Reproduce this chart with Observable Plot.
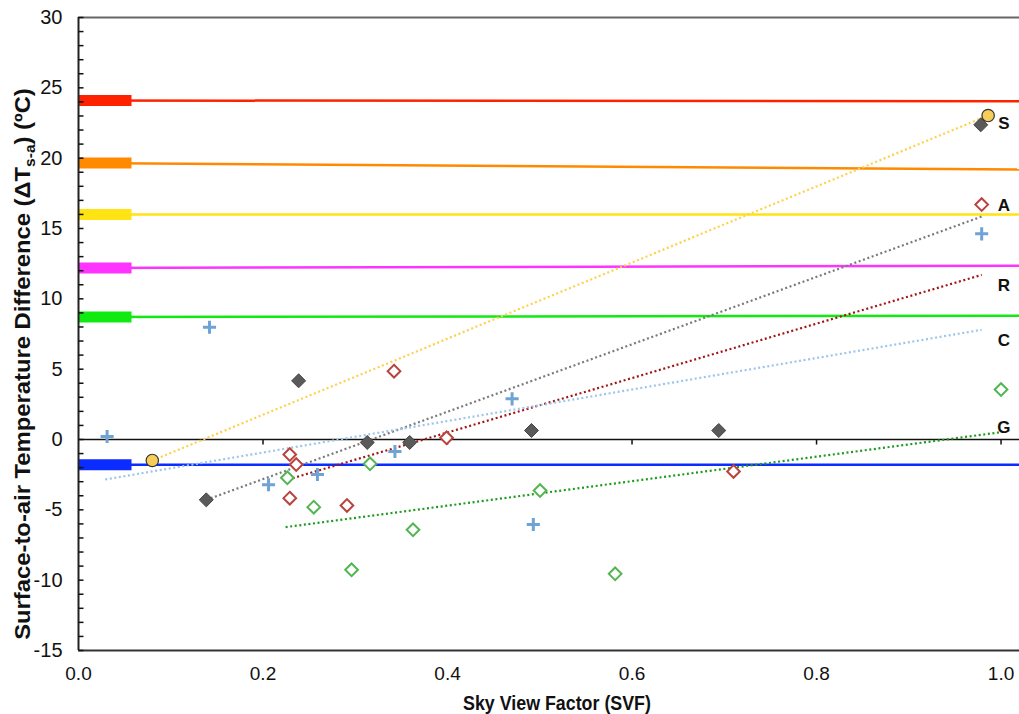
<!DOCTYPE html>
<html><head><meta charset="utf-8">
<script src="https://cdn.jsdelivr.net/npm/d3@7"></script>
<script src="https://cdn.jsdelivr.net/npm/@observablehq/plot@0.6"></script>
<style>body{margin:0;background:#fff} svg{display:block}</style>
</head><body><div id="chart"></div>
<script>
// ---- data ----
const yTickLabels = [-15, -10, -5, 0, 5, 10, 15, 20, 25, 30];
const xTickLabels = [0, 0.2, 0.4, 0.6, 0.8, 1.0];
const yMinorTicks = d3.range(-15, 31, 1);

// horizontal reference levels (start value at SVF 0, end value at right edge)
const refStart = [24.1, 19.65, 16.0, 12.2, 8.7, -1.8];
const refEnd   = [24.05, 19.2, 16.0, 12.35, 8.8, -1.8];
const refBarSVF = 0.058;

// series points
const svfS = [0.080, 0.986];
const dtS  = [-1.49, 23.03];
const svfA = [0.1385, 0.2386, 0.313, 0.359, 0.491, 0.694, 0.978];
const dtA  = [-4.29, 4.17, -0.21, -0.21, 0.64, 0.64, 22.37];
const svfR = [0.229, 0.236, 0.229, 0.291, 0.342, 0.399, 0.710, 0.979];
const dtR  = [-1.07, -1.78, -4.17, -4.69, 4.86, 0.12, -2.27, 16.7];
const svfC = [0.031, 0.142, 0.206, 0.259, 0.343, 0.470, 0.493, 0.979];
const dtC  = [0.21, 7.98, -3.22, -2.49, -0.85, 2.89, -6.04, 14.62];
const svfG = [0.2264, 0.255, 0.296, 0.316, 0.3626, 0.5003, 0.5817, 1.0];
const dtG  = [-2.72, -4.81, -9.26, -1.73, -6.42, -3.63, -9.55, 3.55];

// fitted trend lines (endpoints)
const trendX0 = [0.080, 0.1385, 0.2274, 0.029, 0.2245];
const trendY0 = [-1.49, -4.29, -2.84, -2.84, -6.23];
const trendX1 = [0.986, 0.979, 0.979, 0.979, 1.0];
const trendY1 = [23.03, 15.85, 11.7, 7.8, 0.52];

// series labels at the right
const labelNames = ["S", "A", "R", "C", "G"];
const labelY = [22.46, 16.6, 10.95, 7.04, 0.85];
const labelSVF = 1.003;

// ---- styles ----
const refColors = ["#ff2200", "#ff8a00", "#ffe313", "#ff33ff", "#11ea11", "#0a2cff"];
const trendColors = ["#ffd04a", "#7a7a7a", "#a31515", "#9cc5ea", "#1c9a1c"];

const xMax = 1.02;
const W = 1019, H = 714;
const mL = 78, mR = 0, mT = 17, mB = 64;

const refs = refStart.map((v, i) => ({y1: v, y2: refEnd[i], c: refColors[i]}));
const trends = trendX0.map((v, i) => ({x1: v, y1: trendY0[i], x2: trendX1[i], y2: trendY1[i], c: trendColors[i]}));
const pts = (xs, ys) => xs.map((x, i) => ({x, y: ys[i]}));

const tickRight = {draw(ctx) { ctx.moveTo(0, 0); ctx.lineTo(5, 0); }};
const tickDown = {draw(ctx) { ctx.moveTo(0, 0); ctx.lineTo(0, 5); }};

const fontTicks = "'Liberation Sans', Arial, sans-serif";

const chart = Plot.plot({
  width: W, height: H,
  marginLeft: mL, marginRight: mR, marginTop: mT, marginBottom: mB,
  x: {domain: [0, xMax], axis: null},
  y: {domain: [-15, 30], axis: null},
  marks: [
    // frame lines
    Plot.ruleY([30], {stroke: "#666", strokeWidth: 2}),
    Plot.ruleY([-15], {stroke: "#333", strokeWidth: 2}),
    // reference lines and bars
    Plot.link(refs, {x1: 0, x2: xMax, y1: "y1", y2: "y2", stroke: "c", strokeWidth: 2.5}),
    Plot.ruleY(refs, {y: "y1", x1: 0, x2: refBarSVF, stroke: "c", strokeWidth: 11}),
    // zero line
    Plot.ruleY([0], {stroke: "#111", strokeWidth: 1.5}),
    Plot.dot(xTickLabels.filter(d => d > 0), {x: d => d, y: 0, symbol: tickDown, stroke: "#111", strokeWidth: 1.5}),
    // trends
    Plot.link(trends, {x1: "x1", y1: "y1", x2: "x2", y2: "y2", stroke: "c", strokeWidth: 2.2, strokeDasharray: "2,2.6"}),
    // points
    Plot.dot(pts(svfC, dtC), {x: "x", y: "y", symbol: "plus", r: 4.3, stroke: "#6fa3d6", strokeWidth: 3}),
    Plot.dot(pts(svfG, dtG), {x: "x", y: "y", symbol: "diamond2", r: 5.7, stroke: "#52b552", strokeWidth: 2, fill: "white"}),
    Plot.dot(pts(svfR, dtR), {x: "x", y: "y", symbol: "diamond2", r: 5.7, stroke: "#b8433d", strokeWidth: 2, fill: "white"}),
    Plot.dot(pts(svfA, dtA), {x: "x", y: "y", symbol: "diamond2", r: 6.3, stroke: "#444", strokeWidth: 1, fill: "#5a5a5a"}),
    Plot.dot(pts(svfS, dtS), {x: "x", y: "y", symbol: "circle", r: 6.2, stroke: "#333", strokeWidth: 1.2, fill: "#f5cd58"}),
    // left axis
    Plot.ruleX([0], {stroke: "#222", strokeWidth: 2}),
    Plot.dot(yMinorTicks, {x: 0, y: d => d, symbol: tickRight, stroke: "#111", strokeWidth: 1.5}),
    Plot.text(yTickLabels, {x: 0, y: d => d, dx: -16, textAnchor: "end", text: d => String(d), fontSize: 20, fontFamily: fontTicks, fill: "#111"}),
    Plot.text(xTickLabels, {x: d => d, y: -15, dy: 23, text: d => d.toFixed(1), fontSize: 19, fontFamily: fontTicks, fill: "#111"}),
    // labels
    Plot.text(labelNames, {x: labelSVF, y: (d, i) => labelY[i], text: d => d, fontSize: 17, fontWeight: "bold", fontFamily: fontTicks, fill: "#111"})
  ]
});
document.getElementById("chart").appendChild(chart);

// axis titles (real text, with subscript)
const svg = d3.select(chart);
const titleFont = "'Liberation Sans Narrow', 'Arial Narrow', 'Liberation Sans', Arial, sans-serif";
const yt = svg.append("text")
  .attr("text-anchor", "middle")
  .attr("font-family", titleFont).attr("font-weight", "bold").attr("font-size", 21.5).attr("fill", "#111");
yt.append("tspan").text("Surface-to-air Temperature Difference (ΔT");
yt.append("tspan").attr("font-size", 14).attr("dy", 5).text("s-a");
yt.append("tspan").attr("dy", -5).text(") (ºC)");
let len = yt.node().getComputedTextLength();
const sy = len > 0 ? 552 / len : 1;
yt.attr("transform", `translate(30, 364) rotate(-90) scale(${sy}, 1)`);

const xt = svg.append("text")
  .attr("text-anchor", "middle")
  .attr("font-family", titleFont).attr("font-weight", "bold").attr("font-size", 20).attr("fill", "#111")
  .text("Sky View Factor (SVF)");
let lenX = xt.node().getComputedTextLength();
const sxx = lenX > 0 ? 188 / lenX : 1;
xt.attr("transform", `translate(557, 710) scale(${sxx}, 1)`);
</script>
</body></html>
